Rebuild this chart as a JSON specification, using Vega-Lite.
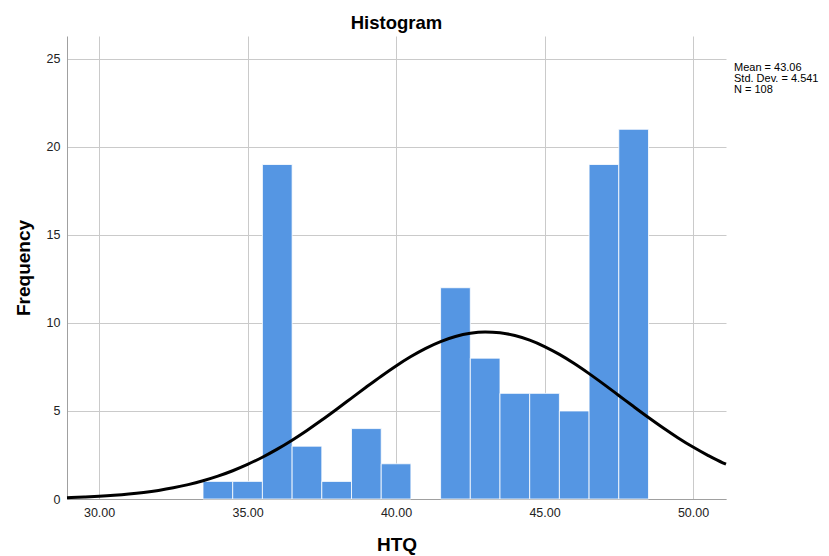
{
  "$schema": "https://vega.github.io/schema/vega-lite/v6.json",
  "width": 659,
  "height": 463,
  "autosize": {"type": "none"},
  "padding": {"left": 67, "top": 36, "right": 103, "bottom": 57},
  "background": "white",
  "config": {
    "font": "Liberation Sans",
    "view": {"stroke": null},
    "axis": {
      "grid": true,
      "gridColor": "#cacaca",
      "gridWidth": 1,
      "domainColor": "#a0a0a0",
      "domainWidth": 1,
      "ticks": false,
      "labelFont": "Liberation Sans",
      "labelFontSize": 12.5,
      "labelColor": "#222222",
      "titleFont": "Liberation Sans",
      "titleFontSize": 19,
      "titleFontWeight": "bold",
      "titleColor": "#000000"
    }
  },
  "title": {
    "text": "Histogram",
    "font": "Liberation Sans",
    "fontSize": 18.5,
    "fontWeight": "bold",
    "anchor": "middle",
    "frame": "group",
    "offset": 4,
    "color": "#000000"
  },
  "datasets": {
    "bins": [
      {"start": 33.5, "end": 34.5, "count": 1},
      {"start": 34.5, "end": 35.5, "count": 1},
      {"start": 35.5, "end": 36.5, "count": 19},
      {"start": 36.5, "end": 37.5, "count": 3},
      {"start": 37.5, "end": 38.5, "count": 1},
      {"start": 38.5, "end": 39.5, "count": 4},
      {"start": 39.5, "end": 40.5, "count": 2},
      {"start": 41.5, "end": 42.5, "count": 12},
      {"start": 42.5, "end": 43.5, "count": 8},
      {"start": 43.5, "end": 44.5, "count": 6},
      {"start": 44.5, "end": 45.5, "count": 6},
      {"start": 45.5, "end": 46.5, "count": 5},
      {"start": 46.5, "end": 47.5, "count": 19},
      {"start": 47.5, "end": 48.5, "count": 21}
    ],
    "curve": [
      {"x": 28.92, "y": 0.0734},
      {"x": 29.5, "y": 0.1099},
      {"x": 30.0, "y": 0.1517},
      {"x": 30.5, "y": 0.2070},
      {"x": 31.0, "y": 0.2790},
      {"x": 31.5, "y": 0.3715},
      {"x": 32.0, "y": 0.4885},
      {"x": 32.5, "y": 0.6351},
      {"x": 33.0, "y": 0.8154},
      {"x": 33.5, "y": 1.0348},
      {"x": 34.0, "y": 1.2967},
      {"x": 34.5, "y": 1.6053},
      {"x": 35.0, "y": 1.9637},
      {"x": 35.5, "y": 2.3732},
      {"x": 36.0, "y": 2.8334},
      {"x": 36.5, "y": 3.3420},
      {"x": 37.0, "y": 3.8943},
      {"x": 37.5, "y": 4.4835},
      {"x": 38.0, "y": 5.1000},
      {"x": 38.5, "y": 5.7307},
      {"x": 39.0, "y": 6.3618},
      {"x": 39.5, "y": 6.9780},
      {"x": 40.0, "y": 7.5612},
      {"x": 40.5, "y": 8.0941},
      {"x": 41.0, "y": 8.5603},
      {"x": 41.5, "y": 8.9444},
      {"x": 42.0, "y": 9.2332},
      {"x": 42.5, "y": 9.4163},
      {"x": 43.0, "y": 9.4873},
      {"x": 43.5, "y": 9.4437},
      {"x": 44.0, "y": 9.2870},
      {"x": 44.5, "y": 9.0228},
      {"x": 45.0, "y": 8.6605},
      {"x": 45.5, "y": 8.2127},
      {"x": 46.0, "y": 7.6942},
      {"x": 46.5, "y": 7.1216},
      {"x": 47.0, "y": 6.5119},
      {"x": 47.5, "y": 5.8826},
      {"x": 48.0, "y": 5.2504},
      {"x": 48.5, "y": 4.6297},
      {"x": 49.0, "y": 4.0329},
      {"x": 49.5, "y": 3.4707},
      {"x": 50.0, "y": 2.9511},
      {"x": 50.5, "y": 2.4789},
      {"x": 51.0, "y": 2.0573},
      {"x": 51.11, "y": 1.9791}
    ],
    "stats": [
      {"label": "Mean = 43.06", "line": 0},
      {"label": "Std. Dev. = 4.541", "line": 1},
      {"label": "N = 108", "line": 2}
    ]
  },
  "layer": [
    {
      "layer": [
        {
          "data": {"name": "bins"},
          "mark": {"type": "rect", "color": "#5596e3", "stroke": "#ffffff", "strokeWidth": 1, "strokeOpacity": 0.8},
          "encoding": {
            "x": {
              "field": "start",
              "type": "quantitative",
              "scale": {"domain": [28.92, 51.11], "nice": false, "zero": false},
              "axis": {
                "values": [30, 35, 40, 45, 50],
                "format": ".2f",
                "title": "HTQ",
                "labelPadding": 7,
                "titlePadding": 17
              }
            },
            "x2": {"field": "end"},
            "y": {
              "field": "count",
              "type": "quantitative",
              "scale": {"domain": [0, 26.3], "nice": false},
              "axis": {
                "values": [0, 5, 10, 15, 20, 25],
                "title": "Frequency",
                "labelPadding": 7,
                "titlePadding": 13
              }
            },
            "y2": {"datum": 0}
          }
        },
        {
          "data": {"name": "curve"},
          "mark": {"type": "line", "color": "#000000", "strokeWidth": 3, "interpolate": "monotone"},
          "encoding": {
            "x": {"field": "x", "type": "quantitative"},
            "y": {"field": "y", "type": "quantitative"}
          }
        }
      ]
    },
    {
      "data": {"name": "stats"},
      "mark": {"type": "text", "align": "left", "baseline": "middle", "fontSize": 11, "font": "Liberation Sans", "color": "#000000", "dx": 8},
      "encoding": {
        "x": {"datum": 51.11, "type": "quantitative"},
        "y": {"field": "line", "type": "quantitative", "scale": {"domain": [-2.9, 39.2], "nice": false, "zero": false, "reverse": true}, "axis": null},
        "text": {"field": "label"}
      }
    }
  ],
  "resolve": {"scale": {"y": "independent"}}
}
